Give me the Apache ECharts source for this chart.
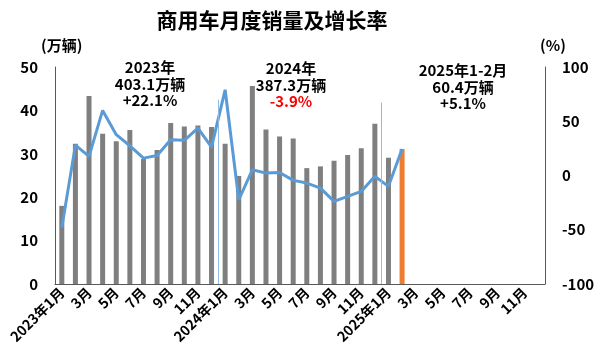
<!DOCTYPE html>
<html><head><meta charset="utf-8">
<script src="https://cdn.jsdelivr.net/npm/echarts@6/dist/echarts.min.js"></script>
<style>html,body{margin:0;padding:0;background:#fff}#c{width:600px;height:363px}</style>
</head><body><div id="c"></div>
<script>
const categories = [];
const years = ['2023', '2024', '2025'];
for (const y of years) for (let m = 1; m <= 12; m++) categories.push(y + '-' + m);
const tickLabels = categories.map(c => { const [y, m] = c.split('-'); return m === '1' ? y + '年1月' : m + '月'; });
const sales = [18.0, 32.3, 43.3, 34.6, 32.9, 35.5, 28.8, 30.9, 37.1, 36.3, 36.5, 36.2,
  32.3, 24.9, 45.6, 35.6, 34.0, 33.5, 26.7, 27.1, 28.4, 29.7, 31.3, 36.9,
  29.1, 31.1];
const growth = [-48, 28, 17.6, 60, 37.6, 27.4, 16, 18.5, 33, 32.4, 43.7, 26.2,
  79, -22.4, 5.3, 2.2, 2.8, -4.5, -7, -11.6, -23.9, -19.3, -14.7, -0.8,
  -10, 24.4];
const highlightIndex = 25;
const dividers = [12, 24];
const dividerTop = [42.5, 41.8];
const notes = [
  {lines: ['2023年', '403.1万辆', '+22.1%'], red: false},
  {lines: ['2024年', '387.3万辆', '-3.9%'], red: true},
  {lines: ['2025年1-2月', '60.4万辆', '+5.1%'], red: false}
];
const noteX = [150, 291, 463];
const noteY = [60, 61, 63];

const FONT = "'Noto Sans CJK SC', sans-serif";
const chart = echarts.init(document.getElementById('c'));
const barData = categories.map((c, i) => i < sales.length ? {value: sales[i], itemStyle: {color: i === highlightIndex ? '#ed7d31' : '#7f7f7f'}} : null);
const lineData = categories.map((c, i) => i < growth.length ? growth[i] : null);

const graphics = [];
notes.forEach((n, k) => {
  n.lines.forEach((t, j) => {
    graphics.push({type: 'text', x: noteX[k], y: noteY[k] + j * 16.5,
      style: {text: t, fill: (n.red && j === 2) ? '#ff0000' : '#000', font: 'bold 15px ' + FONT, textAlign: 'center', textVerticalAlign: 'top'}});
  });
});

chart.setOption({
  animation: false,
  title: {text: '商用车月度销量及增长率', left: 267, textAlign: 'center', top: 5,
    textStyle: {fontSize: 21, fontWeight: 'bold', color: '#000', fontFamily: FONT}},
  grid: {left: 55, right: 55, top: 67, bottom: 79, containLabel: false},
  xAxis: [{
    type: 'category', data: tickLabels,
    axisLine: {lineStyle: {color: '#595959', width: 1}},
    axisTick: {show: false},
    axisLabel: {interval: 1, rotate: 45, color: '#000', fontWeight: 'bold', fontSize: 14, fontFamily: FONT, margin: 6}
  }, {
    type: 'value', min: 0, max: 36, show: false
  }],
  yAxis: [{
    type: 'value', min: 0, max: 50, interval: 10, name: '(万辆)', nameLocation: 'end', nameGap: 14,
    nameTextStyle: {color: '#000', fontWeight: 'bold', fontSize: 15, fontFamily: FONT, align: 'left', padding: [0, 0, 0, -14]},
    axisLine: {show: true, lineStyle: {color: '#595959'}}, axisTick: {show: false}, splitLine: {show: false},
    axisLabel: {color: '#000', fontWeight: 'bold', fontSize: 15, fontFamily: FONT, margin: 17}
  }, {
    type: 'value', min: -100, max: 100, interval: 50, name: '(%)', nameLocation: 'end', nameGap: 14,
    nameTextStyle: {color: '#000', fontWeight: 'bold', fontSize: 15, fontFamily: FONT, align: 'center', padding: [0, 0, 0, 16]},
    axisLine: {show: true, lineStyle: {color: '#595959'}}, axisTick: {show: false}, splitLine: {show: false},
    axisLabel: {color: '#000', fontWeight: 'bold', fontSize: 15, fontFamily: FONT, margin: 17}
  }],
  series: [{
    type: 'bar', data: barData, barWidth: 5, xAxisIndex: 0, yAxisIndex: 0
  }, {
    type: 'line', data: [], xAxisIndex: 1, yAxisIndex: 0, silent: true,
    markLine: {symbol: ['none', 'none'], silent: true, label: {show: false},
      lineStyle: {color: '#8fbce6', width: 1, type: 'solid'},
      emphasis: {disabled: true},
      data: dividers.map((d, i) => [{coord: [d, dividerTop[i]]}, {coord: [d, 0]}])}
  }, {
    type: 'line', data: lineData, xAxisIndex: 0, yAxisIndex: 1, symbol: 'none',
    lineStyle: {color: '#5b9bd5', width: 3}, itemStyle: {color: '#5b9bd5'}
  }],
  graphic: graphics
});
</script></body></html>
